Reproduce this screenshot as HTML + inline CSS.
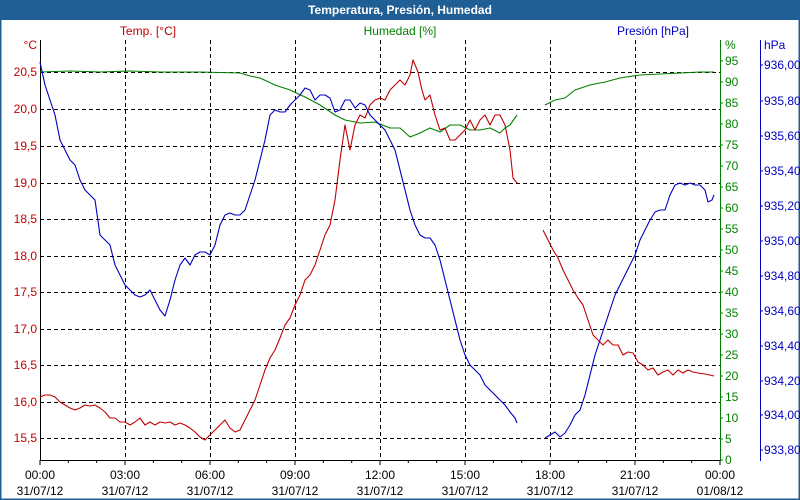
<!DOCTYPE html>
<html><head><meta charset="utf-8"><style>
body{margin:0;background:#fff}
svg{display:block;font-family:"Liberation Sans",sans-serif;font-size:12px}
</style></head><body>
<svg width="800" height="500" viewBox="0 0 800 500">
<rect x="0" y="0" width="800" height="500" fill="#fff"/>
<rect x="0.5" y="0.5" width="799" height="499" fill="none" stroke="#1f5f96" stroke-width="2"/>
<rect x="0" y="0" width="800" height="20" fill="#1f5f96"/>
<text x="400" y="14" text-anchor="middle" fill="#fff" font-weight="bold" font-size="12">Temperatura, Presión, Humedad</text>
<g stroke="#000" stroke-dasharray="4,3" stroke-width="1">
<line x1="125.5" y1="40" x2="125.5" y2="460"/><line x1="210.5" y1="40" x2="210.5" y2="460"/>
<line x1="295.5" y1="40" x2="295.5" y2="460"/><line x1="380.5" y1="40" x2="380.5" y2="460"/>
<line x1="465.5" y1="40" x2="465.5" y2="460"/><line x1="550.5" y1="40" x2="550.5" y2="460"/>
<line x1="635.5" y1="40" x2="635.5" y2="460"/>
<line x1="40" y1="72.5" x2="720" y2="72.5"/><line x1="40" y1="109.5" x2="720" y2="109.5"/>
<line x1="40" y1="146.5" x2="720" y2="146.5"/><line x1="40" y1="183.5" x2="720" y2="183.5"/>
<line x1="40" y1="219.5" x2="720" y2="219.5"/><line x1="40" y1="256.5" x2="720" y2="256.5"/>
<line x1="40" y1="292.5" x2="720" y2="292.5"/><line x1="40" y1="329.5" x2="720" y2="329.5"/>
<line x1="40" y1="365.5" x2="720" y2="365.5"/><line x1="40" y1="402.5" x2="720" y2="402.5"/>
<line x1="40" y1="438.5" x2="720" y2="438.5"/>
</g>
<line x1="40.5" y1="40" x2="40.5" y2="461" stroke="#000"/>
<line x1="40" y1="460.5" x2="721" y2="460.5" stroke="#000"/>
<line x1="720.5" y1="40" x2="720.5" y2="461" stroke="#008000"/>
<line x1="760.5" y1="40" x2="760.5" y2="461" stroke="#0000c0"/>
<g stroke="#000">
<path d="M40 460v5M68.3 460v3M96.7 460v3M125 460v5M153.3 460v3M181.7 460v3M210 460v5M238.3 460v3M266.7 460v3M295 460v5M323.3 460v3M351.7 460v3M380 460v5M408.3 460v3M436.7 460v3M465 460v5M493.3 460v3M521.7 460v3M550 460v5M578.3 460v3M606.7 460v3M635 460v5M663.3 460v3M691.7 460v3M720 460v5"/>
</g>
<g fill="#c00000" text-anchor="end">
<text x="37" y="49">°C</text>
<text x="37" y="76">20,5</text><text x="37" y="113">20,0</text><text x="37" y="150">19,5</text>
<text x="37" y="187">19,0</text><text x="37" y="223">18,5</text><text x="37" y="260">18,0</text>
<text x="37" y="296">17,5</text><text x="37" y="333">17,0</text><text x="37" y="369">16,5</text>
<text x="37" y="406">16,0</text><text x="37" y="442">15,5</text>
</g>
<text x="148" y="35" text-anchor="middle" fill="#c00000">Temp. [°C]</text>
<text x="400" y="35" text-anchor="middle" fill="#008000">Humedad [%]</text>
<text x="653" y="35" text-anchor="middle" fill="#0000c0">Presión [hPa]</text>
<text x="725" y="49" fill="#008000">%</text>
<text x="764" y="49" fill="#0000c0">hPa</text>
<g fill="#008000" stroke="none">
<text x="725" y="464">0</text><text x="725" y="443">5</text><text x="725" y="422">10</text><text x="725" y="401">15</text>
<text x="725" y="380">20</text><text x="725" y="359">25</text><text x="725" y="338">30</text><text x="725" y="317">35</text>
<text x="725" y="296">40</text><text x="725" y="275">45</text><text x="725" y="254">50</text><text x="725" y="233">55</text>
<text x="725" y="212">60</text><text x="725" y="191">65</text><text x="725" y="170">70</text><text x="725" y="149">75</text>
<text x="725" y="128">80</text><text x="725" y="107">85</text><text x="725" y="86">90</text><text x="725" y="65">95</text>
</g>
<path stroke="#008000" d="M720 460h3M720 439h3M720 418h3M720 397h3M720 376h3M720 355h3M720 334h3M720 313h3M720 292h3M720 271h3M720 250h3M720 229h3M720 208h3M720 187h3M720 166h3M720 145h3M720 124h3M720 103h3M720 82h3M720 61h3"/>
<g fill="#0000c0">
<text x="764" y="69">936,00</text><text x="764" y="105">935,80</text><text x="764" y="140">935,60</text>
<text x="764" y="175">935,40</text><text x="764" y="210">935,20</text><text x="764" y="245">935,00</text>
<text x="764" y="280">934,80</text><text x="764" y="315">934,60</text><text x="764" y="350">934,40</text>
<text x="764" y="385">934,20</text><text x="764" y="419">934,00</text><text x="764" y="454">933,80</text>
</g>
<path stroke="#0000c0" d="M760 65h3M760 101h3M760 136h3M760 171h3M760 206h3M760 241h3M760 276h3M760 311h3M760 346h3M760 381h3M760 415h3M760 450h3"/>
<g fill="#000" text-anchor="middle">
<text x="40" y="479">00:00</text><text x="40" y="495">31/07/12</text>
<text x="125" y="479">03:00</text><text x="125" y="495">31/07/12</text>
<text x="210" y="479">06:00</text><text x="210" y="495">31/07/12</text>
<text x="295" y="479">09:00</text><text x="295" y="495">31/07/12</text>
<text x="380" y="479">12:00</text><text x="380" y="495">31/07/12</text>
<text x="465" y="479">15:00</text><text x="465" y="495">31/07/12</text>
<text x="550" y="479">18:00</text><text x="550" y="495">31/07/12</text>
<text x="635" y="479">21:00</text><text x="635" y="495">31/07/12</text>
<text x="720" y="479">00:00</text><text x="720" y="495">01/08/12</text>
</g>
<g fill="none" stroke-width="1.1" stroke-linejoin="round">
<polyline stroke="#008000" points="40,72 70,71 100,72 130,71 160,72 200,72 240,73 250,76 260,78 275,85 290,90 305,97 320,105 335,115 345,120 360,123 375,122 390,128 400,128 410,137 420,133 430,128 440,132 450,125 460,125 470,130 480,130 490,128 500,133 505,128 510,125 517,115"/>
<polyline stroke="#008000" points="545,105 555,100 565,98 575,90 590,85 605,82 620,78 640,75 660,74 680,73 700,72 714,72"/>
<polyline stroke="#c00000" points="40,397 45,395 50,395 55,397 60,402 65,405 70,408 75,410 80,408 85,405 90,406 95,405 100,408 105,412 110,418 115,418 120,422 125,422 130,425 135,422 140,418 145,425 150,422 155,425 160,422 165,423 170,422 175,425 180,423 185,425 190,428 195,432 200,437 205,440 210,435 215,430 220,425 225,420 230,428 235,432 240,430 245,420 250,410 255,400 260,385 265,370 270,358 275,350 280,338 285,325 290,318 295,305 300,295 305,280 310,275 315,265 320,250 325,235 330,225 335,200 340,160 345,125 350,150 355,125 360,115 365,118 370,105 375,100 380,98 385,100 390,90 395,85 400,80 405,85 410,75 413,60 418,72 422,90 425,100 430,95 435,115 440,130 445,128 450,140 455,140 460,135 465,130 470,120 475,130 480,120 485,115 490,125 495,115 500,115 505,125 510,150 513,178 517,183"/>
<polyline stroke="#c00000" points="543,230 548,240 553,250 558,258 563,270 568,280 573,290 578,298 583,305 588,320 593,335 598,340 603,345 608,340 613,345 618,345 623,355 628,352 633,353 638,362 643,365 648,370 653,368 658,375 663,372 668,370 673,375 678,370 683,373 688,370 693,372 698,373 705,374 714,376"/>
<polyline stroke="#0000c0" points="40,62 45,85 55,115 60,140 65,150 70,160 75,165 80,180 85,190 90,195 95,200 100,235 105,240 110,245 115,265 120,275 125,285 130,290 135,295 140,297 145,295 150,290 155,300 160,310 165,316 170,300 175,280 180,265 185,258 190,265 195,255 200,252 205,252 210,255 215,245 220,225 225,215 230,213 235,215 240,215 245,210 250,195 255,180 260,160 265,140 270,115 275,110 280,112 285,112 290,105 295,100 300,95 305,88 310,90 315,100 320,95 325,95 330,98 335,112 340,110 345,100 350,100 355,108 360,103 365,105 370,115 375,120 380,125 385,130 390,140 395,150 400,170 405,190 410,210 415,225 420,235 425,238 430,238 435,245 440,260 445,280 450,300 455,320 460,340 465,355 470,365 475,370 480,375 485,385 490,390 495,395 500,400 505,405 510,412 515,418 517,423"/>
<polyline stroke="#0000c0" points="545,438 550,435 555,432 560,437 565,433 570,425 575,415 580,410 585,395 590,375 595,355 600,340 605,325 610,310 615,295 620,285 625,275 630,265 635,255 640,240 645,230 650,220 655,212 660,210 665,210 670,195 675,185 680,183 685,185 690,183 695,185 700,185 705,190 708,202 712,200 714,195"/>
</g>
</svg>
</body></html>
